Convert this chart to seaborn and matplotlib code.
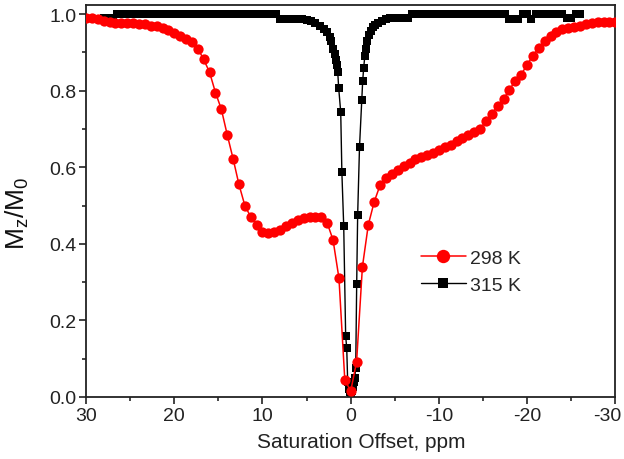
import matplotlib
matplotlib.use("Agg")
import matplotlib.pyplot as plt
import matplotlib.transforms as mtransforms
import seaborn as sns
import pandas as pd
from matplotlib.ticker import MultipleLocator

# ---- data ----
offset_298 = [30.0, 29.33, 28.67, 28.0, 27.33, 26.67, 26.0, 25.33, 24.67, 24.0,
              23.33, 22.67, 22.0, 21.33, 20.67, 20.0, 19.33, 18.67, 18.0, 17.33,
              16.67, 16.0, 15.33, 14.67, 14.0, 13.33, 12.67, 12.0, 11.33, 10.67,
              10.0, 9.33, 8.67, 8.0, 7.33, 6.67, 6.0, 5.33, 4.67, 4.0,
              3.33, 2.67, 2.0, 1.33, 0.67, 0.0, -0.67, -1.33, -2.0, -2.67,
              -3.33, -4.0, -4.67, -5.33, -6.0, -6.67, -7.33, -8.0, -8.67, -9.33,
              -10.0, -10.67, -11.33, -12.0, -12.67, -13.33, -14.0, -14.67, -15.33, -16.0,
              -16.67, -17.33, -18.0, -18.67, -19.33, -20.0, -20.67, -21.33, -22.0, -22.67,
              -23.33, -24.0, -24.67, -25.33, -26.0, -26.67, -27.33, -28.0, -28.67, -29.33,
              -30.0]
mz_298 = [0.990, 0.990, 0.988, 0.982, 0.979, 0.978, 0.977, 0.976, 0.976, 0.975,
          0.973, 0.970, 0.968, 0.963, 0.958, 0.951, 0.944, 0.936, 0.926, 0.910,
          0.882, 0.848, 0.795, 0.752, 0.685, 0.622, 0.555, 0.500, 0.470, 0.450,
          0.432, 0.428, 0.430, 0.437, 0.447, 0.455, 0.462, 0.468, 0.470, 0.470,
          0.470, 0.455, 0.410, 0.310, 0.045, 0.015, 0.092, 0.340, 0.450, 0.510,
          0.553, 0.572, 0.583, 0.594, 0.603, 0.612, 0.621, 0.627, 0.632, 0.637,
          0.644, 0.652, 0.659, 0.668, 0.677, 0.685, 0.692, 0.701, 0.720, 0.740,
          0.760, 0.778, 0.803, 0.826, 0.842, 0.868, 0.892, 0.912, 0.930, 0.944,
          0.953, 0.960, 0.964, 0.967, 0.970, 0.975, 0.978, 0.980, 0.980, 0.980,
          0.980]

offset_315 = [28.0, 27.5, 27.0, 26.5, 26.0, 25.5, 25.0, 24.5, 24.0, 23.5,
              23.0, 22.5, 22.0, 21.5, 21.0, 20.5, 20.0, 19.5, 19.0, 18.5,
              18.0, 17.5, 17.0, 16.5, 16.0, 15.5, 15.0, 14.5, 14.0, 13.5,
              13.0, 12.5, 12.0, 11.5, 11.0, 10.5, 10.0, 9.5, 9.0, 8.5,
              8.0, 7.5, 7.0, 6.5, 6.0, 5.5, 5.0, 4.5, 4.0, 3.5,
              3.0, 2.7, 2.4, 2.2, 2.0, 1.8, 1.7, 1.59, 1.47, 1.36,
              1.13, 1.0, 0.79, 0.57, 0.45, 0.34, 0.23, 0.11, 0.0, -0.11,
              -0.23, -0.34, -0.45, -0.57, -0.68, -0.79, -1.0, -1.25, -1.36, -1.47,
              -1.6, -1.75, -1.9, -2.1, -2.3, -2.5, -2.8, -3.1, -3.5, -4.0,
              -4.5, -5.0, -5.5, -6.0, -6.5, -7.0, -7.5, -8.0, -8.5, -9.0,
              -9.5, -10.0, -10.5, -11.0, -11.5, -12.0, -12.5, -13.0, -13.5, -14.0,
              -14.5, -15.0, -15.5, -16.0, -16.5, -17.0, -17.5, -18.0, -18.5, -19.0,
              -19.5, -20.0, -20.5, -21.0, -21.5, -22.0, -22.5, -23.0, -23.5, -24.0,
              -24.5, -25.0, -25.5, -26.0]
mz_315 = [0.990, 0.990, 0.990, 1.000, 1.000, 1.000, 1.000, 1.000, 1.000, 1.000,
          1.000, 1.000, 1.000, 1.000, 1.000, 1.000, 1.000, 1.000, 1.000, 1.000,
          1.000, 1.000, 1.000, 1.000, 1.000, 1.000, 1.000, 1.000, 1.000, 1.000,
          1.000, 1.000, 1.000, 1.000, 1.000, 1.000, 1.000, 1.000, 1.000, 1.000,
          0.988, 0.988, 0.988, 0.988, 0.988, 0.988, 0.985, 0.982, 0.976, 0.969,
          0.962, 0.953, 0.940, 0.930, 0.910, 0.895, 0.880, 0.868, 0.849, 0.807,
          0.744, 0.587, 0.446, 0.159, 0.128, 0.040, 0.020, 0.012, 0.010, 0.015,
          0.025, 0.040, 0.050, 0.076, 0.295, 0.475, 0.653, 0.775, 0.825, 0.859,
          0.890, 0.910, 0.930, 0.945, 0.955, 0.966, 0.972, 0.977, 0.982, 0.988,
          0.990, 0.990, 0.990, 0.990, 0.990, 1.000, 1.000, 1.000, 1.000, 1.000,
          1.000, 1.000, 1.000, 1.000, 1.000, 1.000, 1.000, 1.000, 1.000, 1.000,
          1.000, 1.000, 1.000, 1.000, 1.000, 1.000, 1.000, 0.988, 0.988, 0.988,
          1.000, 1.000, 0.988, 1.000, 1.000, 1.000, 1.000, 1.000, 1.000, 1.000,
          0.990, 0.990, 1.000, 1.000]

x_ticks = [30, 20, 10, 0, -10, -20, -30]
y_ticks = [0.0, 0.2, 0.4, 0.6, 0.8, 1.0]
labels = ["298 K", "315 K"]

# ---- plot ----
sns.set_style("ticks")
plt.rcParams["font.family"] = ["Liberation Sans", "DejaVu Sans"]
plt.rcParams["mathtext.default"] = "regular"

fig = plt.figure(figsize=(6.24, 4.60), dpi=100)
ax = fig.add_axes([0.138, 0.135, 0.848, 0.852])

df315 = pd.DataFrame({"offset": offset_315, "mz": mz_315})
df298 = pd.DataFrame({"offset": offset_298, "mz": mz_298})

sns.lineplot(data=df315, x="offset", y="mz", ax=ax, sort=False, color="black",
             marker="s", markersize=5.8, markeredgewidth=0, linewidth=1.0,
             label=labels[1], zorder=2)
sns.lineplot(data=df298, x="offset", y="mz", ax=ax, sort=False, color="#ff0000",
             marker="o", markersize=7.4, markeredgewidth=0, linewidth=1.1,
             label=labels[0], zorder=3)

ax.set_xlim(30, -30)
ax.set_ylim(0, 1.024)
ax.set_xticks(x_ticks)
ax.set_xticklabels([str(t) for t in x_ticks])
ax.set_yticks(y_ticks)
ax.set_yticklabels([f"{t:.1f}" for t in y_ticks])
ax.xaxis.set_minor_locator(MultipleLocator(5))
ax.yaxis.set_minor_locator(MultipleLocator(0.1))
ax.tick_params(which="major", direction="out", length=5, width=1.2,
               labelsize=14, colors="#222222", pad=2)
ax.tick_params(which="minor", direction="out", length=3, width=1.2)
for s in ax.spines.values():
    s.set_linewidth(1.3)
    s.set_color("#222222")

# keep the last x tick label inside the figure (as in the reference)
last = ax.get_xticklabels()[-1]
last.set_transform(last.get_transform() +
                   mtransforms.ScaledTranslation(-0.08, 0, fig.dpi_scale_trans))

ax.set_xlabel("Saturation Offset, ppm", fontsize=15, color="#222222")
ax.set_ylabel("$M_z/M_0$", fontsize=19, color="#111111")
ax.xaxis.set_label_coords(0.52, -0.09)
ax.yaxis.set_label_coords(-0.105, 0.47)

handles, lbls = ax.get_legend_handles_labels()
order = [lbls.index(labels[0]), lbls.index(labels[1])]
ax.legend([handles[i] for i in order], [lbls[i] for i in order],
          loc="center left", bbox_to_anchor=(0.6, 0.32), frameon=False,
          fontsize=14, markerscale=1.3, handlelength=2.3, handletextpad=0.2,
          labelspacing=0.5)

fig.savefig("out.png", dpi=100)
